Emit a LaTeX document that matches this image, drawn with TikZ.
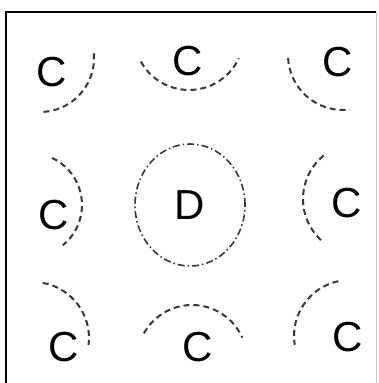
\documentclass[tikz,border=0pt]{standalone}
\usepackage{fontspec}
\setmainfont{Liberation Sans}
\usepackage{tikz}
\definecolor{arcgray}{RGB}{55,55,55}
\definecolor{framegray}{RGB}{200,200,200}
\tikzset{
  letter/.style={font=\fontsize{42}{48}\selectfont, inner sep=0pt},
  arcline/.style={draw=arcgray, line width=2pt, dash pattern=on 6pt off 4pt},
  ringline/.style={draw=arcgray, line width=1.6pt, dash pattern=on 7pt off 3pt on 1.5pt off 3pt}
}
\begin{document}
\begin{tikzpicture}[x=1pt, y=1pt]
  \useasboundingbox (0,0) rectangle (378,383);
  % frame
  \draw[line width=2pt] (6,0) -- (6,371) -- (376,371);
  \draw[framegray, line width=0.8pt] (376,371) -- (376,0);
  % letters
  \node[letter] (ctl) at (52,311) {C};
  \node[letter] (ctm) at (188,322) {C};
  \node[letter] (ctr) at (338,321) {C};
  \node[letter] (cml) at (54,168) {C};
  \node[letter] (dmid) at (190,178) {D};
  \node[letter] (cmr) at (347,180) {C};
  \node[letter] (cbl) at (64,36) {C};
  \node[letter] (cbm) at (198,36) {C};
  \node[letter] (cbr) at (348,46) {C};
  % arcs
  \draw[arcline] (40,325) ++(5:54) arc[start angle=5, end angle=-90, radius=54];
  \draw[arcline] (189,348) ++(209:55) arc[start angle=209, end angle=335, radius=55];
  \draw[arcline] (343,328) ++(183:55) arc[start angle=183, end angle=277, radius=55];
  \draw[arcline] (30,178) ++(65:52) arc[start angle=65, end angle=-51, radius=52];
  \draw[arcline] (359,184) ++(129:56) arc[start angle=129, end angle=231, radius=56];
  \draw[arcline] (33,45) ++(80:56) arc[start angle=80, end angle=-7, radius=56];
  \draw[arcline] (192,23) ++(151:55) arc[start angle=151, end angle=24, radius=55];
  \draw[arcline] (350,47) ++(102:56) arc[start angle=102, end angle=189, radius=56];
  \draw[ringline] (dmid.center) ellipse[x radius=55, y radius=61];
\end{tikzpicture}
\end{document}
